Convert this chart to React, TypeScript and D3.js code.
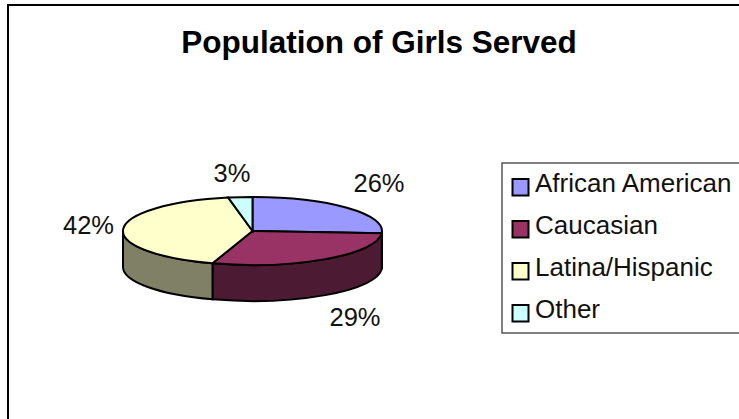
import React from 'react';
import * as d3 from 'd3';

const categories = ['African American', 'Caucasian', 'Latina/Hispanic', 'Other'];
const shares = [26, 29, 42, 3];
const topColors = ['#9999ff', '#993366', '#ffffcc', '#ccffff'];
const sideColors = ['#4d4d80', '#4d1a33', '#808066', '#668080'];

const width = 739;
const height = 419;
const cx = 252.5;
const cy = 231;
const rx = 129.5;
const ry = 34;
const depth = 36;

const font = '"Liberation Sans", Arial, sans-serif';

const pie = d3.pie<number>().sort(null).value((d) => d);
const slices = pie(shares);

// point on the ellipse, angle measured clockwise from the top
const px = (a: number) => cx + rx * Math.sin(a);
const py = (a: number) => cy - ry * Math.cos(a);

const topPath = (s: d3.PieArcDatum<number>) => {
  const large = s.endAngle - s.startAngle > Math.PI ? 1 : 0;
  return `M${cx},${cy}L${px(s.startAngle)},${py(s.startAngle)}A${rx},${ry} 0 ${large} 1 ${px(s.endAngle)},${py(s.endAngle)}Z`;
};

// only the front half of the rim is visible
const sidePath = (s: d3.PieArcDatum<number>) => {
  const a0 = Math.max(s.startAngle, Math.PI / 2);
  const a1 = Math.min(s.endAngle, (3 * Math.PI) / 2);
  if (a1 <= a0) return null;
  return `M${px(a0)},${py(a0)}A${rx},${ry} 0 0 1 ${px(a1)},${py(a1)}L${px(a1)},${py(a1) + depth}A${rx},${ry} 0 0 0 ${px(a0)},${py(a0) + depth}Z`;
};

const labelPos = [
  [379, 192],
  [355, 326],
  [88.5, 234],
  [232, 182],
];

const legendY = d3
  .scalePoint<string>()
  .domain(categories)
  .range([187, 313]);

const App = () => (
  <svg
    width={width}
    height={height}
    style={{ position: 'absolute', left: 0, top: 0, fontFamily: font }}
  >
    <rect x={8} y={5} width={width + 20} height={height + 20} fill="#fff" stroke="#000" strokeWidth={2} />
    <text x={379} y={53} textAnchor="middle" fontSize={31.5} fontWeight="bold">
      Population of Girls Served
    </text>
    {slices.map((s, i) => {
      const d = sidePath(s);
      return d ? <path key={i} d={d} fill={sideColors[i]} stroke="#000" strokeWidth={2} /> : null;
    })}
    {slices.map((s, i) => (
      <path key={i} d={topPath(s)} fill={topColors[i]} stroke="#000" strokeWidth={2} />
    ))}
    {shares.map((v, i) => (
      <text key={i} x={labelPos[i][0]} y={labelPos[i][1]} textAnchor="middle" fontSize={25.5} fill="#111">
        {v}%
      </text>
    ))}
    <rect x={502} y={163} width={width} height={170} fill="#fff" stroke="#555" strokeWidth={1.5} />
    {categories.map((c, i) => (
      <g key={c} transform={`translate(0,${legendY(c)})`}>
        <rect x={512.5} y={-8} width={16} height={16.5} fill={topColors[i]} stroke="#000" strokeWidth={2} />
        <text x={535} y={5} fontSize={26} fill="#111">
          {c}
        </text>
      </g>
    ))}
  </svg>
);

export default App;
